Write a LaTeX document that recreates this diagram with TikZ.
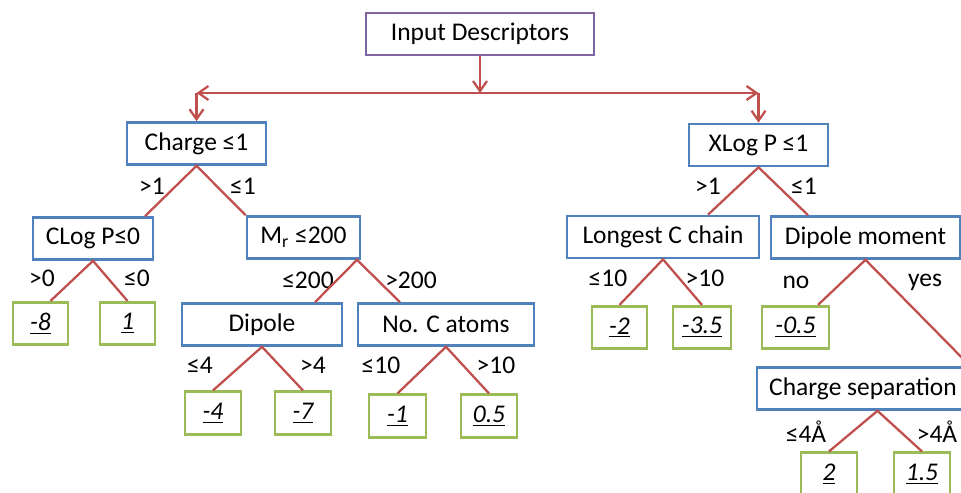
\documentclass[tikz,border=0pt]{standalone}
\usepackage{fontspec}
\setmainfont{Carlito}
\usetikzlibrary{arrows.meta}
\definecolor{rootline}{HTML}{8064A2}
\definecolor{testline}{HTML}{4F81BD}
\definecolor{leafline}{HTML}{9BBB59}
\definecolor{edgeline}{HTML}{C0504D}
\begin{document}
\begin{tikzpicture}[>={Straight Barb[length=2mm,width=2.8mm]},
  font=\fontsize{14.5}{16}\selectfont,
  root/.style={draw=rootline, line width=1.5pt, minimum width=4.56cm, minimum height=0.84cm},
  test/.style={draw=testline, line width=1.5pt, minimum height=0.84cm, inner xsep=2pt},
  leaf/.style={draw=leafline, line width=1.5pt, minimum width=1.12cm, minimum height=0.85cm, font=\fontsize{14.5}{16}\selectfont\itshape},
  edge/.style={draw=edgeline, line width=1.3pt}]
\clip (0,0) rectangle (19.22,-9.84);
\node[root] (inp) at (9.60,-0.68) {Input Descriptors};
% first split
\node[test, minimum width=2.78cm] (chg) at (3.93,-2.87) {Charge ≤1};
\node[test, minimum width=2.78cm] (xlog) at (15.17,-2.90) {XLog P ≤1};
% left branch
\node[test, minimum width=2.40cm] (clog) at (1.86,-4.77) {CLog P≤0};
\node[test, minimum width=2.26cm] (mr) at (6.07,-4.75) {M\textsubscript{r} ≤200};
\node[test, minimum width=3.20cm] (dip) at (5.24,-6.49) {Dipole};
\node[test, minimum width=3.52cm] (ncat) at (8.92,-6.49) {No. C atoms};
\node[leaf, minimum width=1.10cm] (l8) at (0.81,-6.47) {\underline{-8}};
\node[leaf, minimum width=1.10cm] (l1) at (2.55,-6.47) {\underline{1}};
\node[leaf] (l4) at (4.26,-8.26) {\underline{-4}};
\node[leaf] (l7) at (6.06,-8.26) {\underline{-7}};
\node[leaf, minimum width=1.14cm] (lm1) at (7.95,-8.32) {\underline{-1}};
\node[leaf] (l05) at (9.78,-8.32) {\underline{0.5}};
% right branch
\node[test, minimum width=3.84cm] (lcc) at (13.26,-4.74) {Longest C chain};
\node[test, minimum width=3.78cm] (dmom) at (17.31,-4.75) {Dipole moment};
\node[test, minimum width=4.24cm] (csep) at (17.26,-7.77) {Charge separation};
\node[leaf, minimum width=1.10cm] (lm2) at (12.39,-6.55) {\underline{-2}};
\node[leaf, minimum width=1.16cm] (lm35) at (14.04,-6.55) {\underline{-3.5}};
\node[leaf, minimum width=1.34cm] (lm05) at (15.91,-6.55) {\underline{-0.5}};
\node[leaf] (l2) at (16.58,-9.48) {\underline{2}};
\node[leaf] (l15) at (18.44,-9.48) {\underline{1.5}};
% branch labels
\node (c1) at (3.04,-3.72) {>1};
\node (c2) at (4.86,-3.72) {≤1};
\node (p1) at (0.84,-5.56) {>0};
\node (p2) at (2.74,-5.56) {≤0};
\node (m1) at (6.16,-5.60) {≤200};
\node (m2) at (8.22,-5.60) {>200};
\node (d1) at (4.00,-7.30) {≤4};
\node (d2) at (6.26,-7.30) {>4};
\node (n1) at (7.62,-7.30) {≤10};
\node (n2) at (9.92,-7.30) {>10};
\node (x1) at (14.16,-3.72) {>1};
\node (x2) at (16.08,-3.72) {≤1};
\node (g1) at (12.16,-5.56) {≤10};
\node (g2) at (14.10,-5.56) {>10};
\node (y1) at (15.92,-5.64) {no};
\node (y2) at (18.50,-5.64) {yes};
\node (s1) at (16.12,-8.64) {≤4Å};
\node (s2) at (18.74,-8.64) {>4Å};
% arrows from the root
\coordinate (hub) at (9.60,-1.86);
\coordinate (lft) at (hub -| chg.north);
\coordinate (rgt) at (hub -| xlog.north);
\draw[edge, ->] (inp) -- (hub);
\draw[edge, <->] (lft) -- (rgt);
\draw[edge, ->] (lft) -- (chg);
\draw[edge, ->] (rgt) -- (xlog);
% tree edges
\draw[edge] ([xshift=1.04cm]clog.north) -- (chg.south) -- (mr.north west);
\draw[edge] ([xshift=0.2cm]l8.north) -- (clog.south) -- (l1.north);
\draw[edge] ([xshift=1.06cm]dip.north) -- ([xshift=1.07cm]mr.south) -- ([xshift=-0.92cm]ncat.north);
\draw[edge] (l4.north) -- (dip.south) -- (l7.north);
\draw[edge] (lm1.north) -- (ncat.south) -- (l05.north);
\draw[edge] ([xshift=0.90cm]lcc.north) -- (xlog.south) -- ([xshift=-1.15cm]dmom.north);
\draw[edge] (lm2.north) -- (lcc.south) -- (lm35.north);
\draw[edge] ([xshift=0.45cm]lm05.north) -- (dmom.south) -- (csep.north east);
\draw[edge] (l2.north) -- ([xshift=0.29cm]csep.south) -- (l15.north);
\end{tikzpicture}
\end{document}
